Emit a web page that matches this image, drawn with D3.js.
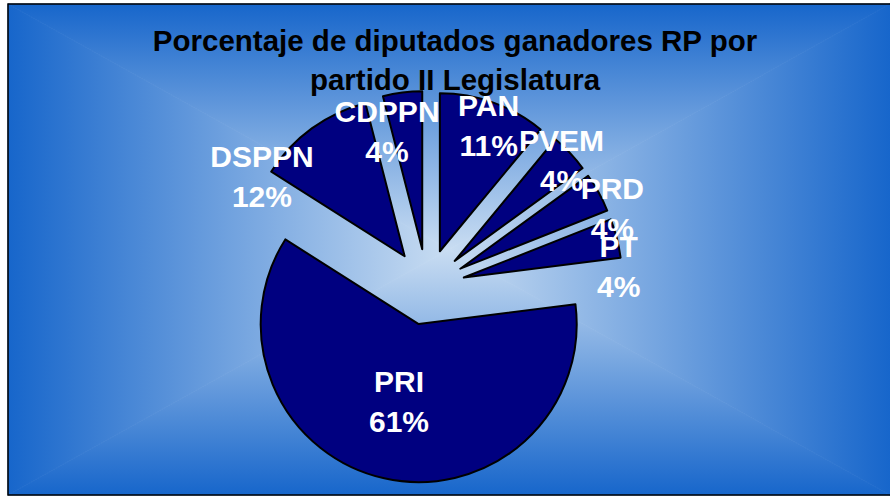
<!DOCTYPE html>
<html>
<head>
<meta charset="utf-8">
<script src="https://cdn.jsdelivr.net/npm/d3@7"></script>
<style>
  html, body { margin: 0; padding: 0; background: #fff; }
  svg { display: block; font-family: "Liberation Sans", Arial, sans-serif; }
</style>
</head>
<body>
<svg id="chart" width="890" height="496"></svg>
<script>
// party names, clockwise from 12 o'clock
const partidos = ['PAN', 'PVEM', 'PRD', 'PT', 'PRI', 'DSPPN', 'CDPPN'];
// percentage of RP winners
const porcentajes = [11, 4, 4, 4, 61, 12, 4];
const titulo = ['Porcentaje de diputados ganadores RP por', 'partido II Legislatura'];

// label placement: [degrees off the slice bisector, distance from pie centre]
const labelPlace = {
  PAN: [0, 182], PVEM: [-2, 191], PRD: [3.5, 205], PT: [5.5, 194],
  PRI: [2.3, 109], DSPPN: [-18, 204], CDPPN: [-6.4, 170],
};

const svg = d3.select('#chart');
const frame = { x0: 8, y0: 4, x1: 890, y1: 495 };
const cx = (frame.x0 + frame.x1) / 2;
const cy = (frame.y0 + frame.y1) / 2;
const edgeColor = '#1766cb';
const centerColor = '#c9ddf2';

// "from centre" rectangular gradient built from four triangles
const defs = svg.append('defs');
const sides = [
  { id: 'gT', pts: [[frame.x0, frame.y0], [frame.x1, frame.y0], [cx, cy]], g: [cx, frame.y0, cx, cy] },
  { id: 'gB', pts: [[frame.x0, frame.y1], [frame.x1, frame.y1], [cx, cy]], g: [cx, frame.y1, cx, cy] },
  { id: 'gL', pts: [[frame.x0, frame.y0], [frame.x0, frame.y1], [cx, cy]], g: [frame.x0, cy, cx, cy] },
  { id: 'gR', pts: [[frame.x1, frame.y0], [frame.x1, frame.y1], [cx, cy]], g: [frame.x1, cy, cx, cy] },
];
sides.forEach((s) => {
  const lg = defs.append('linearGradient')
    .attr('id', s.id)
    .attr('gradientUnits', 'userSpaceOnUse')
    .attr('x1', s.g[0]).attr('y1', s.g[1])
    .attr('x2', s.g[2]).attr('y2', s.g[3]);
  lg.append('stop').attr('offset', 0).attr('stop-color', edgeColor);
  lg.append('stop').attr('offset', 1).attr('stop-color', centerColor);
  svg.append('polygon')
    .attr('points', s.pts.map(p => p.join(',')).join(' '))
    .attr('fill', `url(#${s.id})`)
    .attr('stroke', `url(#${s.id})`)
    .attr('stroke-width', 0.8);
});

// frame border
svg.append('path')
  .attr('d', `M${frame.x1 + 2},${frame.y0} H${frame.x0} V${frame.y1} H${frame.x1 + 2}`)
  .attr('fill', 'none')
  .attr('stroke', '#000')
  .attr('stroke-width', 1.5);

// title
svg.append('text')
  .attr('x', 455)
  .attr('y', 51)
  .attr('text-anchor', 'middle')
  .style('font-size', '29.5px')
  .style('font-weight', 'bold')
  .attr('fill', '#000')
  .selectAll('tspan')
  .data(titulo)
  .join('tspan')
  .attr('x', 455)
  .attr('dy', (d, i) => (i === 0 ? 0 : 39))
  .text(d => d);

// exploded pie
const center = { x: 427, y: 287 };
const radius = 158;
const explode = 38;
const datos = partidos.map((p, i) => ({ name: p, value: porcentajes[i] }));
const pie = d3.pie().sort(null).value(d => d.value);
const arc = d3.arc().innerRadius(0).outerRadius(radius);
const arcs = pie(datos);

const g = svg.append('g').attr('transform', `translate(${center.x},${center.y})`);

g.selectAll('path.slice')
  .data(arcs)
  .join('path')
  .attr('class', 'slice')
  .attr('transform', (d) => {
    const mid = (d.startAngle + d.endAngle) / 2;
    return `translate(${explode * Math.sin(mid)},${-explode * Math.cos(mid)})`;
  })
  .attr('d', arc)
  .attr('fill', '#000080')
  .attr('stroke', '#000')
  .attr('stroke-width', 2)
  .attr('stroke-linejoin', 'round');

const total = d3.sum(porcentajes);
const labels = g.selectAll('text.lbl')
  .data(arcs)
  .join('text')
  .attr('class', 'lbl')
  .attr('text-anchor', 'middle')
  .style('font-size', '30px')
  .style('font-weight', 'bold')
  .attr('fill', '#fff')
  .each(function place(d) {
    const [shift, dist] = labelPlace[d.data.name];
    const a = (d.startAngle + d.endAngle) / 2 + (shift * Math.PI) / 180;
    const x = dist * Math.sin(a);
    const y = -dist * Math.cos(a);
    const t = d3.select(this);
    t.append('tspan').attr('x', x).attr('y', y).text(d.data.name);
    t.append('tspan').attr('x', x).attr('y', y + 40)
      .text(`${Math.round((d.data.value / total) * 100)}%`);
  });
</script>
</body>
</html>
